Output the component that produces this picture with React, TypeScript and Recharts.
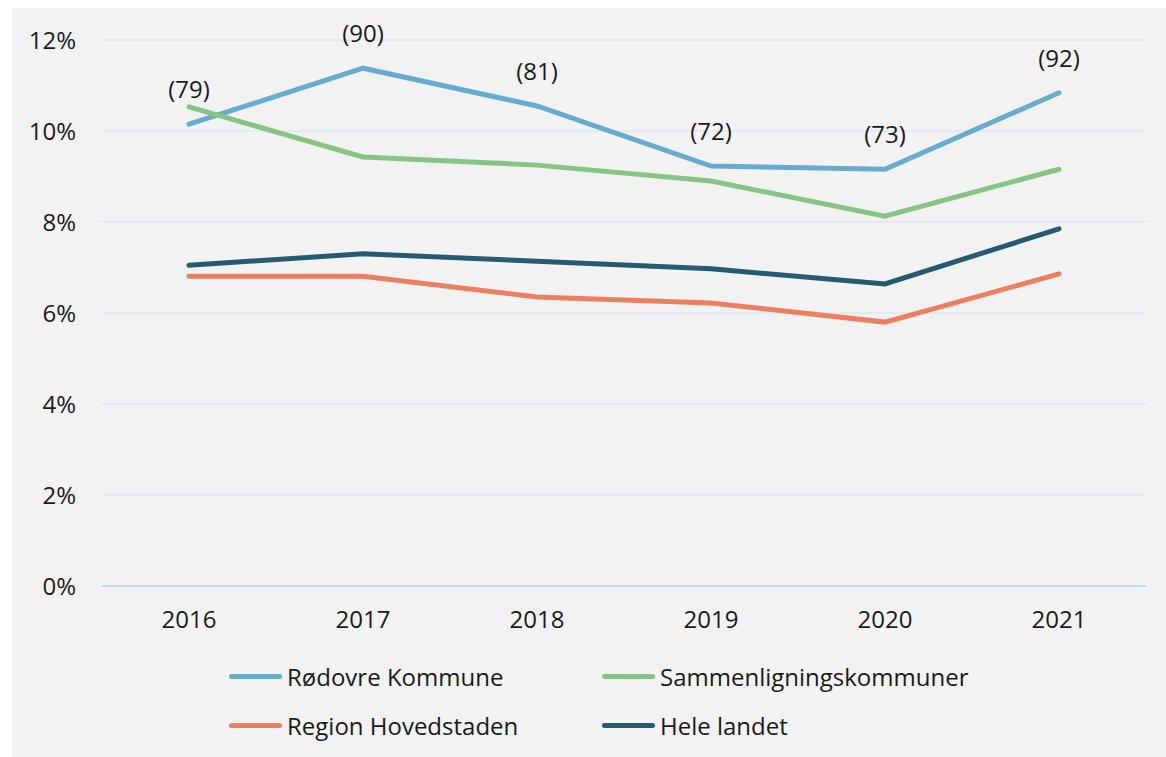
import { LineChart, Line, XAxis, YAxis, CartesianGrid, LabelList } from "recharts";

const years = ["2016", "2017", "2018", "2019", "2020", "2021"];
const rodovre = [10.15, 11.38, 10.55, 9.23, 9.16, 10.84];
const sammenligning = [10.53, 9.43, 9.25, 8.9, 8.13, 9.16];
const region = [6.81, 6.81, 6.35, 6.22, 5.8, 6.86];
const heleLandet = [7.05, 7.3, 7.14, 6.97, 6.64, 7.85];
// antal (n) shown above Rødovre's line
const counts = [79, 90, 81, 72, 73, 92];
const yTicks = [0, 2, 4, 6, 8, 10, 12];

const series = [
  { key: "rodovre", name: "Rødovre Kommune", color: "#67abcf", values: rodovre },
  { key: "sammen", name: "Sammenligningskommuner", color: "#86c484", values: sammenligning },
  { key: "region", name: "Region Hovedstaden", color: "#ec7f5f", values: region },
  { key: "hele", name: "Hele landet", color: "#265a72", values: heleLandet },
];

const data = years.map((year, i) => {
  const row: Record<string, string | number> = { year, n: counts[i] };
  for (const s of series) row[s.key] = s.values[i];
  return row;
});

const FONT = "'Open Sans', sans-serif";
const TEXT = "#1a1a1a";

export default function App() {
  return (
    <div
      style={{
        position: "absolute",
        top: 8,
        left: 12,
        width: 1154,
        height: 749,
        background: "#f2f2f2",
        fontFamily: FONT,
      }}
    >
      <LineChart
        width={1154}
        height={640}
        data={data}
        margin={{ top: 32, right: 20, bottom: 32, left: 0 }}
      >
        <CartesianGrid vertical={false} stroke="#dde9f3" strokeWidth={1.5} />
        <XAxis
          dataKey="year"
          scale="band"
          axisLine={{ stroke: "#b3d6ea", strokeWidth: 1.5 }}
          tickLine={false}
          tickSize={0}
          tickMargin={25}
          tick={{ fill: TEXT, fontSize: 24, fontFamily: FONT }}
        />
        <YAxis
          width={90}
          domain={[0, 12]}
          ticks={yTicks}
          axisLine={false}
          tickLine={false}
          tickSize={0}
          tickMargin={26}
          tickFormatter={(v) => `${v}%`}
          tick={{ fill: TEXT, fontSize: 24, fontFamily: FONT }}
        />
        {series.map((s) => (
          <Line
            key={s.key}
            dataKey={s.key}
            name={s.name}
            stroke={s.color}
            strokeWidth={5}
            strokeLinecap="round"
            dot={false}
            activeDot={false}
            isAnimationActive={false}
          >
            {s.key === "rodovre" && (
              <LabelList
                dataKey="n"
                position="top"
                offset={26}
                formatter={(v: unknown) => `(${v})`}
                style={{ fill: TEXT, fontSize: 24, fontFamily: FONT }}
              />
            )}
          </Line>
        ))}
      </LineChart>
      <div
        style={{
          position: "absolute",
          left: 217,
          top: 648,
          display: "grid",
          gridTemplateColumns: "373px auto",
          rowGap: 9,
        }}
      >
        {series.map((s) => (
          <div key={s.key} style={{ display: "flex", alignItems: "center", height: 40 }}>
            <span
              style={{
                display: "inline-block",
                width: 53,
                height: 5,
                borderRadius: 3,
                background: s.color,
                marginRight: 5,
              }}
            />
            <span style={{ fontSize: 24, color: TEXT, whiteSpace: "nowrap" }}>{s.name}</span>
          </div>
        ))}
      </div>
    </div>
  );
}
